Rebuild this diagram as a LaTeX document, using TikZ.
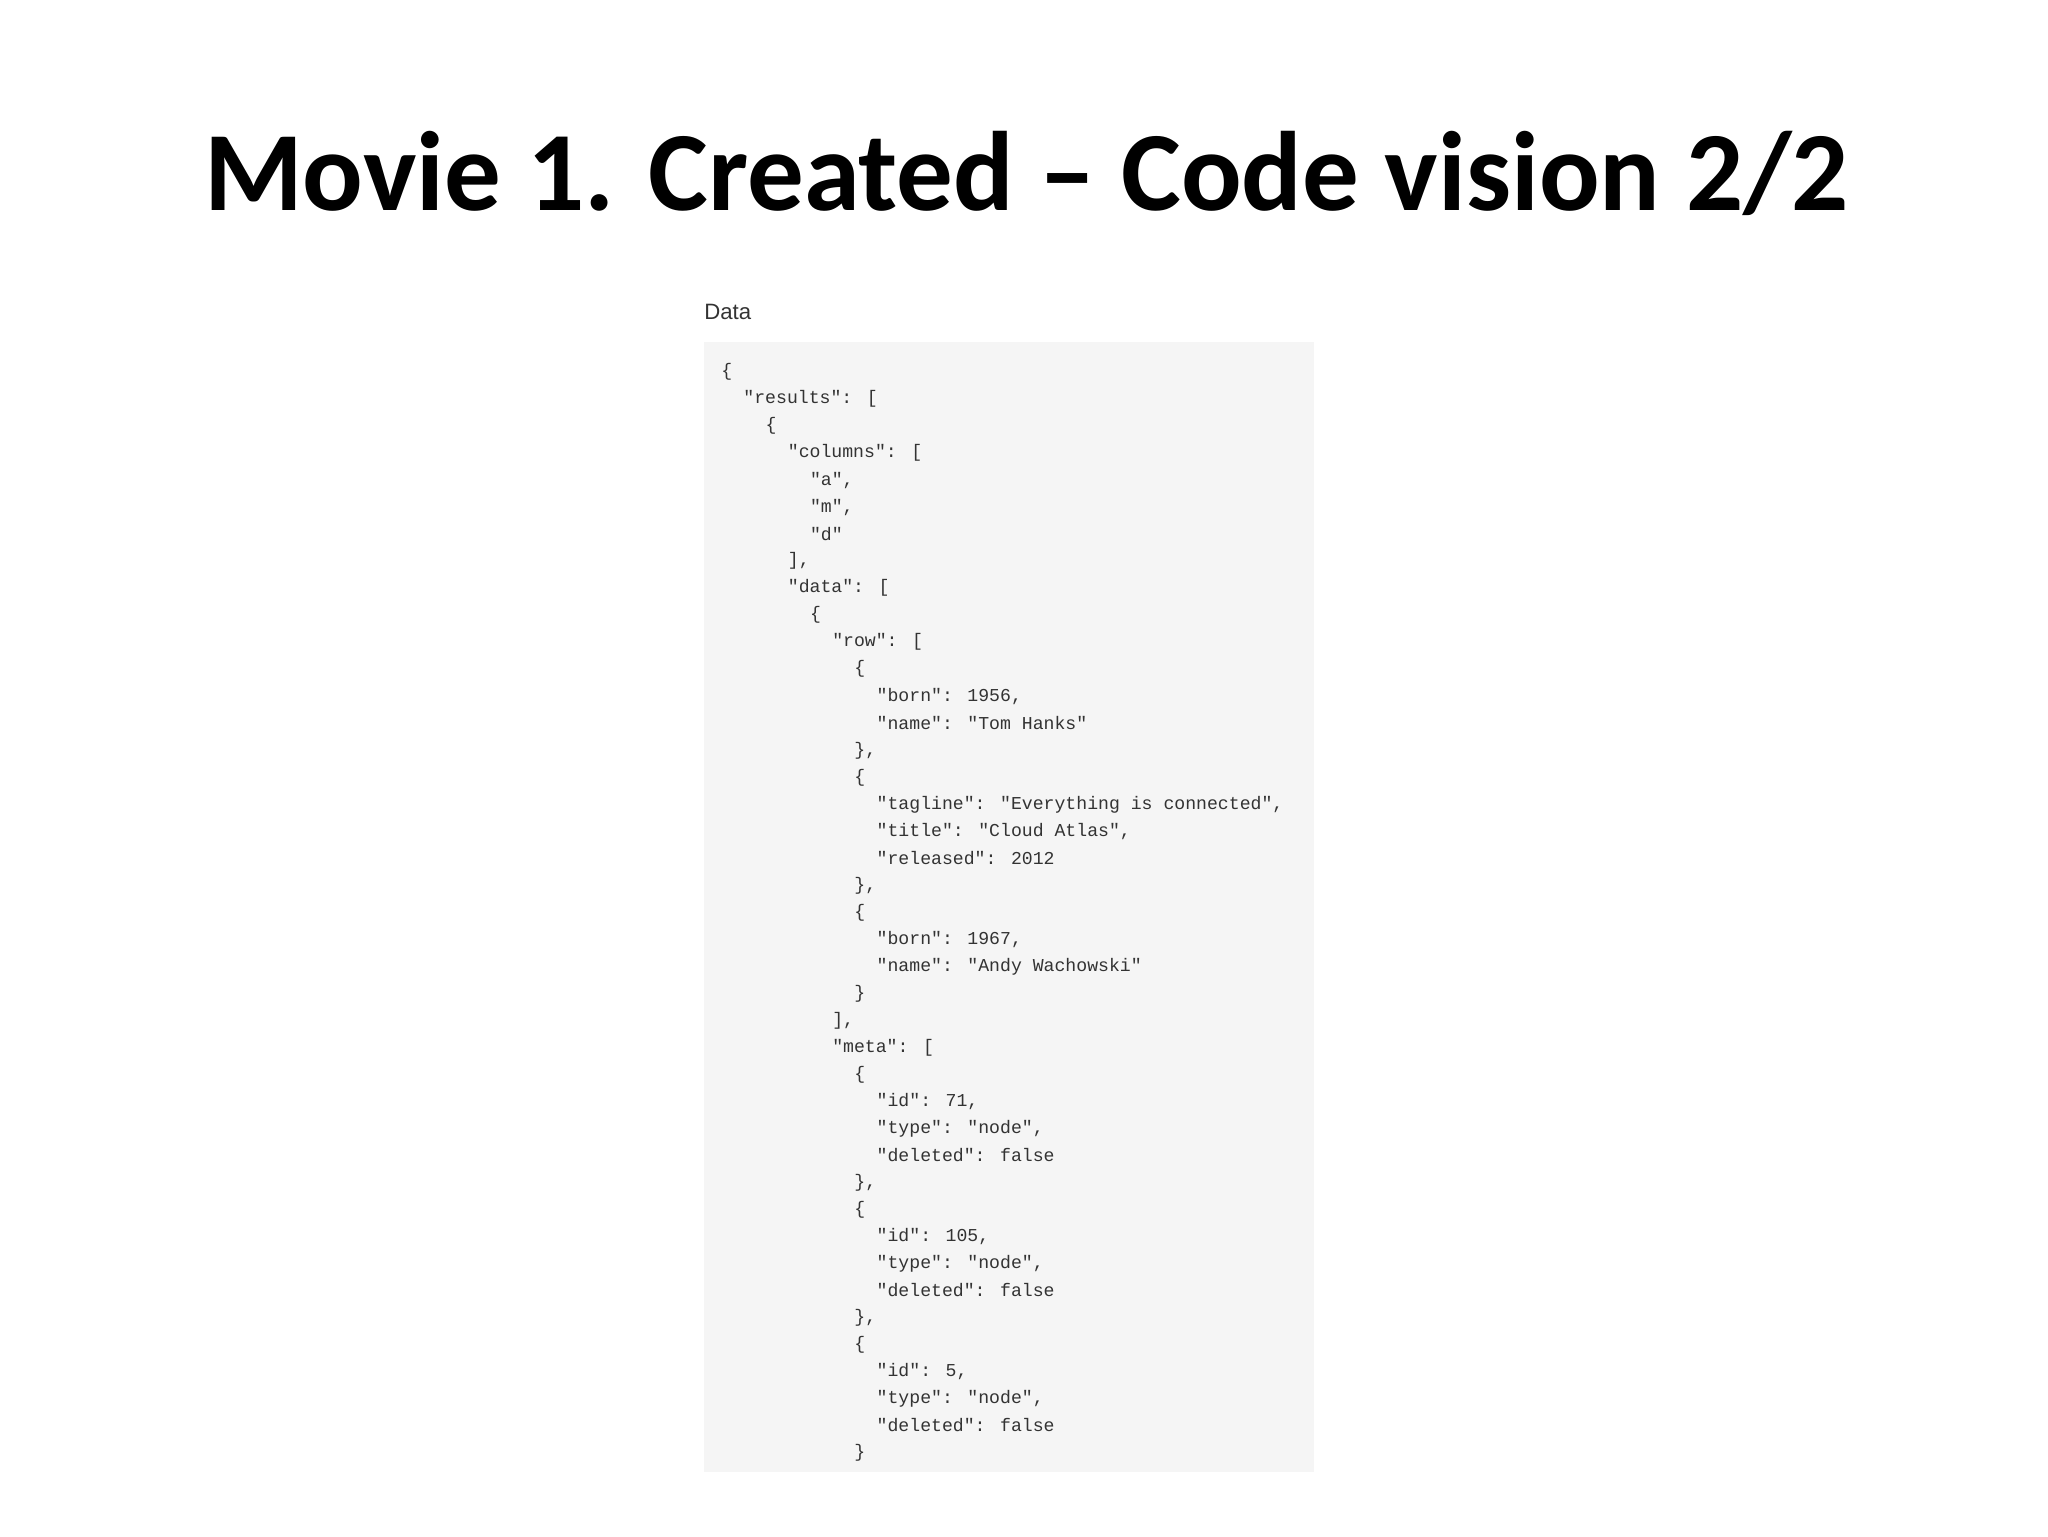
\documentclass[tikz,border=0pt]{standalone}
\usepackage{fontspec}
\setmainfont{Carlito}
\newfontfamily\codefont{Liberation Mono}
\newfontfamily\labfont{Liberation Sans}
\definecolor{codebg}{HTML}{F5F5F5}
\definecolor{codefg}{HTML}{333333}
\newcommand\cl[3]{\node[codeline] (l#1) at ({552+8.5*#2},{285+20.675*#1}) {#3};}
\begin{document}
\begin{tikzpicture}[x=1pt,y=-1pt,
  codeline/.style={anchor=west,inner sep=0pt,font=\codefont\fontsize{13.9}{16}\selectfont,text=codefg}]
\useasboundingbox (0,0) rectangle (1568,1176);
\node[font=\bfseries\fontsize{86.5}{100}\selectfont] (title) at (786,133) {Movie 1. Created – Code vision 2/2};
\node[anchor=west,inner sep=0pt,font=\labfont\fontsize{17}{20}\selectfont,text=codefg] (lab) at (539,239) {Data};
\fill[codebg] (539,262) rectangle (1006,1127);
\cl{0}{0}{\{}
\cl{1}{2}{"results": [}
\cl{2}{4}{\{}
\cl{3}{6}{"columns": [}
\cl{4}{8}{"a",}
\cl{5}{8}{"m",}
\cl{6}{8}{"d"}
\cl{7}{6}{],}
\cl{8}{6}{"data": [}
\cl{9}{8}{\{}
\cl{10}{10}{"row": [}
\cl{11}{12}{\{}
\cl{12}{14}{"born": 1956,}
\cl{13}{14}{"name": "Tom Hanks"}
\cl{14}{12}{\},}
\cl{15}{12}{\{}
\cl{16}{14}{"tagline": "Everything is connected",}
\cl{17}{14}{"title": "Cloud Atlas",}
\cl{18}{14}{"released": 2012}
\cl{19}{12}{\},}
\cl{20}{12}{\{}
\cl{21}{14}{"born": 1967,}
\cl{22}{14}{"name": "Andy Wachowski"}
\cl{23}{12}{\}}
\cl{24}{10}{],}
\cl{25}{10}{"meta": [}
\cl{26}{12}{\{}
\cl{27}{14}{"id": 71,}
\cl{28}{14}{"type": "node",}
\cl{29}{14}{"deleted": false}
\cl{30}{12}{\},}
\cl{31}{12}{\{}
\cl{32}{14}{"id": 105,}
\cl{33}{14}{"type": "node",}
\cl{34}{14}{"deleted": false}
\cl{35}{12}{\},}
\cl{36}{12}{\{}
\cl{37}{14}{"id": 5,}
\cl{38}{14}{"type": "node",}
\cl{39}{14}{"deleted": false}
\cl{40}{12}{\}}
\end{tikzpicture}
\end{document}
